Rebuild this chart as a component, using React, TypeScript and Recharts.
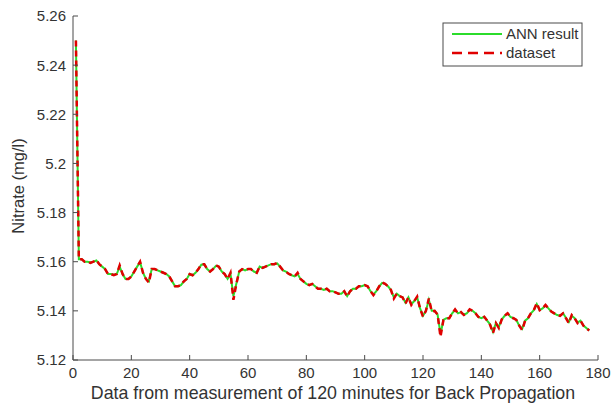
import React from 'react';
import { LineChart, Line, XAxis, YAxis, Customized } from 'recharts';

// sample index 1..177 (one reading per step)
const dataset = [
  5.250, 5.161, 5.161, 5.160, 5.160, 5.1595, 5.160, 5.1607, 5.159, 5.158,
  5.157, 5.155, 5.155, 5.1545, 5.155, 5.1585, 5.155, 5.153, 5.153, 5.154,
  5.156, 5.158, 5.160, 5.1555, 5.153, 5.1515, 5.157, 5.157, 5.1565, 5.156,
  5.1555, 5.155, 5.154, 5.152, 5.150, 5.150, 5.1505, 5.152, 5.153, 5.155,
  5.1545, 5.1555, 5.157, 5.159, 5.159, 5.157, 5.156, 5.157, 5.1585, 5.158,
  5.156, 5.155, 5.153, 5.1555, 5.1445, 5.151, 5.156, 5.157, 5.1565, 5.157,
  5.157, 5.156, 5.1555, 5.158, 5.1575, 5.158, 5.1585, 5.159, 5.159, 5.1595,
  5.158, 5.1565, 5.156, 5.155, 5.1545, 5.154, 5.1555, 5.153, 5.152, 5.151,
  5.1505, 5.151, 5.150, 5.149, 5.149, 5.1485, 5.149, 5.148, 5.148, 5.1475,
  5.147, 5.147, 5.148, 5.1458, 5.148, 5.149, 5.149, 5.150, 5.150, 5.1505,
  5.150, 5.148, 5.1464, 5.148, 5.150, 5.1516, 5.151, 5.150, 5.1485, 5.145,
  5.147, 5.146, 5.1455, 5.143, 5.1455, 5.1424, 5.144, 5.1458, 5.141, 5.1376,
  5.140, 5.145, 5.1397, 5.140, 5.1385, 5.1295, 5.1363, 5.137, 5.137, 5.139,
  5.1406, 5.139, 5.1395, 5.1383, 5.139, 5.1406, 5.140, 5.139, 5.1375, 5.137,
  5.1376, 5.136, 5.1343, 5.131, 5.135, 5.133, 5.1365, 5.138, 5.139, 5.1375,
  5.137, 5.1363, 5.134, 5.1322, 5.136, 5.137, 5.139, 5.1403, 5.1431, 5.1403,
  5.141, 5.1424, 5.141, 5.1397, 5.139, 5.1383, 5.138, 5.139, 5.137, 5.135,
  5.1383, 5.137, 5.135, 5.136, 5.134, 5.133, 5.132,
];

const annResult = [
  5.250, 5.161, 5.161, 5.160, 5.160, 5.1597, 5.160, 5.1605, 5.159, 5.158,
  5.157, 5.155, 5.155, 5.1547, 5.155, 5.158, 5.155, 5.153, 5.153, 5.154,
  5.156, 5.158, 5.1598, 5.1555, 5.153, 5.152, 5.157, 5.157, 5.1565, 5.156,
  5.1555, 5.155, 5.154, 5.152, 5.150, 5.150, 5.1505, 5.152, 5.153, 5.155,
  5.1545, 5.1555, 5.157, 5.1588, 5.159, 5.157, 5.156, 5.157, 5.1583, 5.158,
  5.156, 5.155, 5.153, 5.155, 5.146, 5.151, 5.156, 5.157, 5.1565, 5.157,
  5.157, 5.156, 5.1555, 5.158, 5.1575, 5.158, 5.1585, 5.159, 5.159, 5.1593,
  5.158, 5.1565, 5.156, 5.155, 5.1545, 5.154, 5.155, 5.153, 5.152, 5.151,
  5.1505, 5.151, 5.150, 5.149, 5.149, 5.1485, 5.149, 5.148, 5.148, 5.1475,
  5.147, 5.147, 5.148, 5.146, 5.148, 5.149, 5.149, 5.150, 5.150, 5.1505,
  5.150, 5.148, 5.1467, 5.148, 5.150, 5.1514, 5.151, 5.150, 5.1485, 5.1455,
  5.147, 5.146, 5.1455, 5.1433, 5.1455, 5.1427, 5.144, 5.1455, 5.141, 5.138,
  5.140, 5.1445, 5.14, 5.140, 5.1385, 5.1305, 5.1363, 5.137, 5.137, 5.139,
  5.1404, 5.139, 5.1395, 5.1385, 5.139, 5.1404, 5.140, 5.139, 5.1375, 5.137,
  5.1376, 5.136, 5.1345, 5.1315, 5.135, 5.1335, 5.1365, 5.138, 5.139, 5.1375,
  5.137, 5.1363, 5.134, 5.1327, 5.136, 5.137, 5.139, 5.1403, 5.1428, 5.1403,
  5.141, 5.1422, 5.141, 5.1397, 5.139, 5.1383, 5.138, 5.139, 5.1372, 5.1355,
  5.138, 5.137, 5.1352, 5.136, 5.134, 5.133, 5.132,
];

const xTicks = [0, 20, 40, 60, 80, 100, 120, 140, 160, 180];
const yTicks = [5.12, 5.14, 5.16, 5.18, 5.2, 5.22, 5.24, 5.26];
const yTickLabels = ['5.12', '5.14', '5.16', '5.18', '5.2', '5.22', '5.24', '5.26'];

const seriesNames = ['ANN result', 'dataset'];
const xTitle = 'Data from measurement of 120 minutes for Back Propagation';
const yTitle = 'Nitrate (mg/l)';

const rows = dataset.map((v, i) => ({ x: i + 1, ann: annResult[i], dataset: v }));

const AXIS = '#4a4a4a';
const TEXT = '#333333';
const GREEN = '#2bdc2b';
const RED = '#e00000';
const FONT = '"Liberation Sans", Arial, sans-serif';

const XTick = (props: any) => {
  const { x, y, payload } = props;
  return (
    <g>
      <line x1={x} x2={x} y1={y} y2={y - 5} stroke={AXIS} />
      <text x={x} y={y + 18} textAnchor="middle" fontSize={15} fill={TEXT} fontFamily={FONT}>
        {payload.value}
      </text>
    </g>
  );
};

const YTick = (props: any) => {
  const { x, y, payload } = props;
  const idx = yTicks.indexOf(payload.value);
  return (
    <g>
      <line x1={x} x2={x + 5} y1={y} y2={y} stroke={AXIS} />
      <text x={x - 7} y={y} dy="0.36em" textAnchor="end" fontSize={15} fill={TEXT} fontFamily={FONT}>
        {idx >= 0 ? yTickLabels[idx] : payload.value}
      </text>
    </g>
  );
};

const Extras = () => (
  <g fontFamily={FONT} fill={TEXT}>
    <text x={18} y={186} transform="rotate(-90 18 186)" textAnchor="middle" dy="0.35em" fontSize={16.5}>
      {yTitle}
    </text>
    <text x={333} y={399} textAnchor="middle" fontSize={17.8}>
      {xTitle}
    </text>
    <rect x={443} y={23} width={139} height={43} fill="#fff" stroke={AXIS} />
    <line x1={452} x2={502} y1={34} y2={34} stroke={GREEN} strokeWidth={2} />
    <line x1={452} x2={502} y1={53} y2={53} stroke={RED} strokeWidth={2.5} strokeDasharray="10 6" />
    <text x={506} y={34} dy="0.36em" fontSize={15}>{seriesNames[0]}</text>
    <text x={506} y={53} dy="0.36em" fontSize={15}>{seriesNames[1]}</text>
  </g>
);

export default function App() {
  return (
    <div style={{ width: 611, height: 409, background: '#fff' }}>
      <style>{'body{margin:0}'}</style>
      <LineChart width={611} height={409} data={rows} margin={{ top: 16, right: 13, left: 0, bottom: 0 }}>
        <XAxis
          dataKey="x"
          type="number"
          domain={[0, 180]}
          ticks={xTicks}
          height={49}
          tickSize={0}
          tickMargin={0}
          tick={<XTick />}
          axisLine={{ stroke: AXIS }}
          interval={0}
        />
        <YAxis
          type="number"
          domain={[5.12, 5.26]}
          ticks={yTicks}
          width={73}
          tickSize={0}
          tickMargin={0}
          tick={<YTick />}
          axisLine={{ stroke: AXIS }}
          interval={0}
          allowDataOverflow
        />
        <Line
          dataKey="ann"
          name={seriesNames[0]}
          type="linear"
          stroke={GREEN}
          strokeWidth={2}
          dot={false}
          isAnimationActive={false}
        />
        <Line
          dataKey="dataset"
          name={seriesNames[1]}
          type="linear"
          stroke={RED}
          strokeWidth={2.5}
          strokeDasharray="6 4"
          dot={false}
          isAnimationActive={false}
        />
        <Customized component={Extras} />
      </LineChart>
    </div>
  );
}
